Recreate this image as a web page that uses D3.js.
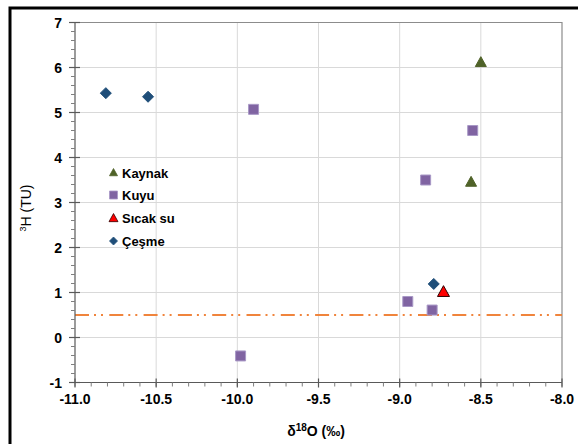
<!DOCTYPE html>
<html><head><meta charset="utf-8">
<script src="https://cdn.jsdelivr.net/npm/d3@7"></script>
<style>body{margin:0;background:#fff}svg{display:block}</style>
</head><body>
<svg id="c" width="578" height="444"></svg>
<script>
// Data
const kaynakX = [-8.50, -8.56];
const kaynakY = [6.12, 3.46];
const kuyuX = [-9.98, -9.90, -8.95, -8.80, -8.84, -8.55];
const kuyuY = [-0.41, 5.07, 0.80, 0.61, 3.50, 4.60];
const sicakX = [-8.73];
const sicakY = [1.02];
const cesmeX = [-10.81, -10.55, -8.79];
const cesmeY = [5.43, 5.35, 1.19];
const refLineY = 0.5;
const xTicks = [-11.0, -10.5, -10.0, -9.5, -9.0, -8.5, -8.0];
const yTicks = [-1, 0, 1, 2, 3, 4, 5, 6, 7];
const legendNames = ["Kaynak", "Kuyu", "Sıcak su", "Çeşme"];

const svg = d3.select("#c");
const L = 75, R = 562, T = 22.5, B = 382.5;
const x = d3.scaleLinear().domain([-11, -8]).range([L, R]);
const y = d3.scaleLinear().domain([-1, 7]).range([B, T]);

// outer frame
svg.append("rect").attr("x", 10).attr("y", 8).attr("width", 600).attr("height", 500)
  .attr("fill", "none").attr("stroke", "#000").attr("stroke-width", 3);

// gridlines
svg.append("g").selectAll("line").data(xTicks.filter(d => d > -11 && d < -8)).join("line")
  .attr("x1", d => x(d)).attr("x2", d => x(d)).attr("y1", T).attr("y2", B)
  .attr("stroke", "#d9d9d9").attr("stroke-width", 1);
svg.append("g").selectAll("line").data(yTicks.filter(d => d > -1 && d < 7)).join("line")
  .attr("x1", L).attr("x2", R).attr("y1", d => y(d)).attr("y2", d => y(d))
  .attr("stroke", "#d9d9d9").attr("stroke-width", 1);
// plot border top/right
svg.append("path").attr("d", `M${L},${T}H${R}V${B}`).attr("fill", "none")
  .attr("stroke", "#8c8c8c").attr("stroke-width", 1.2);

// reference line
svg.append("line").attr("x1", L).attr("x2", R).attr("y1", y(refLineY)).attr("y2", y(refLineY))
  .attr("stroke", "#f0843c").attr("stroke-width", 2)
  .attr("stroke-dasharray", "14,5,2,5,2,6.3");

// axes
const tickFont = "bold 14px 'Liberation Sans', Arial, sans-serif";
const xMinor = d3.range(-11, -7.99, 0.1);
const yMinor = d3.range(-1, 7.01, 0.2);
const axX = svg.append("g");
axX.append("line").attr("x1", L).attr("x2", R).attr("y1", B).attr("y2", B).attr("stroke", "#595959").attr("stroke-width", 1.2);
axX.selectAll(".mn").data(xMinor).join("line")
  .attr("x1", d => x(d)).attr("x2", d => x(d)).attr("y1", B).attr("y2", B + 4).attr("stroke", "#7f7f7f");
axX.selectAll(".mj").data(xTicks).join("line")
  .attr("x1", d => x(d)).attr("x2", d => x(d)).attr("y1", B - 4).attr("y2", B + 5).attr("stroke", "#595959").attr("stroke-width", 1.2);
axX.selectAll("text").data(xTicks).join("text")
  .attr("x", d => x(d)).attr("y", 404).attr("text-anchor", "middle")
  .style("font", tickFont).attr("fill", "#000").text(d => d3.format(".1f")(d).replace("−", "-"));

const axY = svg.append("g");
axY.append("line").attr("x1", L).attr("x2", L).attr("y1", T).attr("y2", B).attr("stroke", "#595959").attr("stroke-width", 1.2);
axY.selectAll(".mn").data(yMinor).join("line")
  .attr("x1", L - 4).attr("x2", L).attr("y1", d => y(d)).attr("y2", d => y(d)).attr("stroke", "#7f7f7f");
axY.selectAll(".mj").data(yTicks).join("line")
  .attr("x1", L - 6).attr("x2", L + 5).attr("y1", d => y(d)).attr("y2", d => y(d)).attr("stroke", "#595959").attr("stroke-width", 1.2);
axY.selectAll("text").data(yTicks).join("text")
  .attr("x", 62).attr("y", d => y(d) + 5).attr("text-anchor", "end")
  .style("font", tickFont).attr("fill", "#000").text(d => d < 0 ? "-" + Math.abs(d) : d);

// axis titles
const xt = svg.append("text").attr("x", 316).attr("y", 436).attr("text-anchor", "middle")
  .style("font", "bold 14px 'Liberation Sans', Arial, sans-serif");
xt.append("tspan").text("δ");
xt.append("tspan").attr("dy", -5).style("font-size", "10px").text("18");
xt.append("tspan").attr("dy", 5).text("O (‰)");
const yt = svg.append("text").attr("transform", "translate(31,208) rotate(-90)").attr("text-anchor", "middle")
  .style("font", "14px 'Liberation Sans', Arial, sans-serif");
yt.append("tspan").attr("dy", -5).style("font-size", "9px").text("3");
yt.append("tspan").attr("dy", 5).text("H (TU)");

// markers
const tri = (s) => { const h = s * 0.9; return `M0,${-h * 0.55}L${s / 2},${h * 0.45}L${-s / 2},${h * 0.45}Z`; };
const diamond = (s) => `M0,${-s / 2}L${s / 2},0L0,${s / 2}L${-s / 2},0Z`;
const square = (s) => `M${-s / 2},${-s / 2}h${s}v${s}h${-s}Z`;

const series = [
  { xs: kaynakX, ys: kaynakY, path: tri(11), lp: tri(8), fill: "#4f6228", stroke: "#4f6228" },
  { xs: kuyuX, ys: kuyuY, path: square(10), lp: square(8), fill: "#8064a2", stroke: "#a898c6" },
  { xs: sicakX, ys: sicakY, path: tri(12), lp: tri(9), fill: "#ff0000", stroke: "#300000" },
  { xs: cesmeX, ys: cesmeY, path: diamond(11), lp: diamond(8), fill: "#1f4e79", stroke: "#1f4e79" },
];
series.forEach(s => {
  svg.append("g").selectAll("path").data(s.xs.map((v, i) => [v, s.ys[i]])).join("path")
    .attr("d", s.path).attr("transform", d => `translate(${x(d[0])},${y(d[1])})`)
    .attr("fill", s.fill).attr("stroke", s.stroke).attr("stroke-width", 1);
});

// legend
const lg = svg.append("g");
const rowY = [172.5, 195, 218, 241];
legendNames.forEach((n, i) => {
  const s = series[i];
  lg.append("path").attr("d", s.lp).attr("transform", `translate(113.5,${rowY[i]})`)
    .attr("fill", s.fill).attr("stroke", s.stroke).attr("stroke-width", 0.8);
  lg.append("text").attr("x", 122).attr("y", rowY[i] + 5)
    .style("font", "bold 13px 'Liberation Sans', Arial, sans-serif").text(n);
});
</script>
</body></html>
